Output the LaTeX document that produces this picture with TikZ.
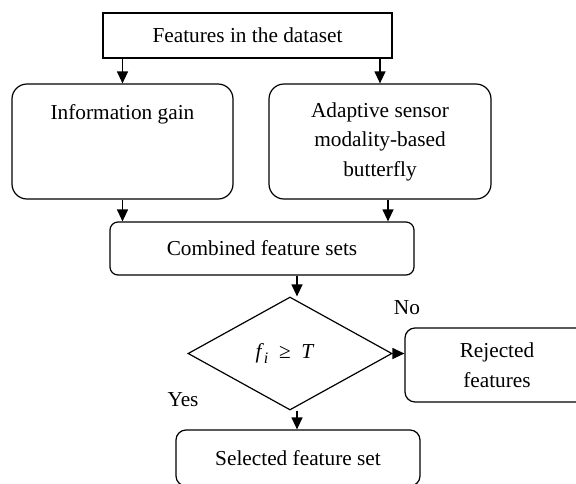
\documentclass[tikz,border=0pt]{standalone}
\usepackage{fontspec}
\setmainfont{Liberation Serif}
\usetikzlibrary{shapes.geometric,arrows.meta}
\begin{document}
\begin{tikzpicture}[x=1pt,y=-1pt,
  every node/.style={font=\fontsize{21.3}{29.5}\selectfont},
  box/.style={draw, line width=1.2pt, align=center, inner sep=0pt},
  rbox/.style={box, rounded corners=#1},
  dia/.style={draw, line width=1.2pt, diamond, inner sep=0pt, aspect=1.8},
  arr/.style={-{Triangle[length=12pt,width=11pt]}, line width=1.2pt}
]
\useasboundingbox (0,0) rectangle (576,483);
\node[box, minimum width=289pt, minimum height=45pt] (top) at (247.5,35.5) {Features in the dataset};
\node[rbox=15pt, minimum width=221pt, minimum height=115pt] (info) at (122.5,141.5) {Information gain\\~\\~};
\node[rbox=15pt, minimum width=222pt, minimum height=115pt] (adapt) at (380,141.5) {Adaptive sensor\\modality-based\\butterfly};
\node[rbox=8pt, minimum width=304pt, minimum height=53pt] (comb) at (262,248.5) {Combined feature sets};
\node[dia, minimum width=204pt, minimum height=113pt] (dec) at (290,353.5) {\hspace{-10pt}\textit{f}\raisebox{-4.5pt}{\fontsize{16}{16}\selectfont\textit{i}}\ \ ≥\ \ \textit{T}};
\node[rbox=10pt, minimum width=184pt, minimum height=74pt] (rej) at (497,365) {Rejected\\features};
\node[rbox=10pt, minimum width=244pt, minimum height=56pt] (sel) at (298,458) {Selected feature set};
\node (no) at (407,308) {No};
\node (yes) at (183,400) {Yes};
\coordinate (c1) at (297,0);
\draw[arr] (top.south -| info.north) -- (info.north);
\draw[arr] (top.south -| adapt.north) -- (adapt.north);
\draw[arr] (info.south) -- (info.south |- comb.north);
\draw[arr] ([xshift=8pt]adapt.south) -- ([xshift=8pt]adapt.south |- comb.north);
\draw[arr] (comb.south -| c1) -- (dec.north -| c1);
\draw[arr] (dec.east) -- (rej.west |- dec.east);
\draw[arr] (dec.south -| c1) -- (sel.north -| c1);
\end{tikzpicture}
\end{document}
